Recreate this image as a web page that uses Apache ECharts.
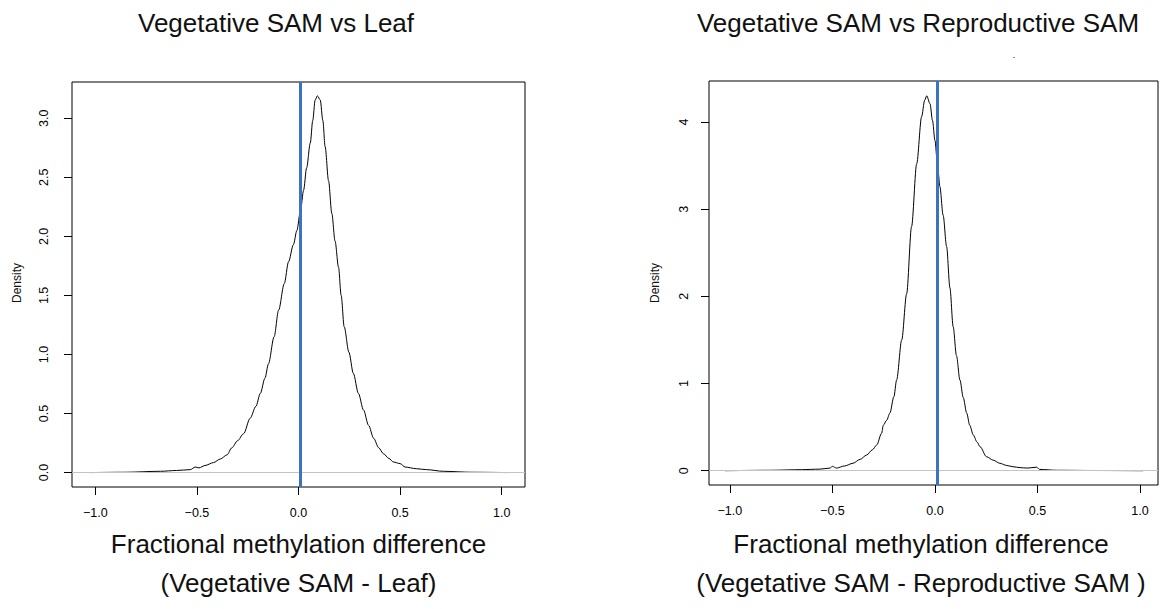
<!DOCTYPE html>
<html>
<head>
<meta charset="utf-8">
<script src="https://cdn.jsdelivr.net/npm/echarts@6/dist/echarts.min.js"></script>
<style>html,body{margin:0;padding:0;background:#fff}#c{width:1163px;height:609px}</style>
</head>
<body>
<div id="c"></div>
<script>
// ---- data ----
const leftX = [-1.03,-0.85,-0.68,-0.60,-0.533,-0.508,-0.49,-0.46,-0.418,-0.385,-0.352,-0.328,-0.30,-0.27,-0.238,-0.21,-0.188,-0.165,-0.148,-0.12,-0.098,-0.07,-0.049,-0.025,-0.008,0.01,0.025,0.04,0.058,0.07,0.082,0.093,0.107,0.12,0.131,0.148,0.164,0.18,0.197,0.21,0.225,0.248,0.27,0.295,0.32,0.345,0.37,0.395,0.418,0.445,0.467,0.5,0.525,0.58,0.63,0.713,0.85,1.03];
const leftY = [0.0,0.003,0.011,0.018,0.025,0.047,0.04,0.06,0.085,0.115,0.15,0.21,0.27,0.33,0.46,0.56,0.67,0.80,0.92,1.15,1.375,1.6,1.785,1.93,2.05,2.22,2.39,2.58,2.79,2.98,3.155,3.19,3.155,2.98,2.76,2.47,2.195,1.96,1.74,1.5,1.234,1.02,0.84,0.67,0.53,0.40,0.29,0.21,0.16,0.12,0.09,0.076,0.047,0.033,0.025,0.011,0.003,0.0];
const rightX = [-1.024,-0.8,-0.65,-0.561,-0.512,-0.5,-0.48,-0.44,-0.4,-0.365,-0.333,-0.305,-0.284,-0.26,-0.252,-0.235,-0.22,-0.2,-0.187,-0.162,-0.138,-0.114,-0.089,-0.065,-0.05,-0.04,-0.024,-0.012,0.0,0.012,0.024,0.04,0.057,0.073,0.089,0.105,0.122,0.138,0.155,0.17,0.187,0.205,0.22,0.252,0.285,0.317,0.35,0.38,0.415,0.45,0.496,0.51,0.594,0.8,1.015];
const rightY = [0,0.005,0.012,0.018,0.03,0.05,0.03,0.055,0.085,0.13,0.18,0.24,0.295,0.43,0.52,0.58,0.66,0.85,1.04,1.5,2.03,2.8,3.52,4.06,4.25,4.30,4.21,4.02,3.79,3.53,3.26,2.93,2.57,2.1,1.65,1.32,1.04,0.84,0.66,0.52,0.41,0.33,0.275,0.16,0.12,0.085,0.06,0.046,0.035,0.03,0.04,0.015,0.005,0.002,0];
const xTicks = [-1.0,-0.5,0.0,0.5,1.0];
const leftYTicks = [0.0,0.5,1.0,1.5,2.0,2.5,3.0];
const rightYTicks = [0,1,2,3,4];
const leftVLine = 0.005;
const rightVLine = 0.008;
const titles = ["Vegetative SAM vs Leaf", "Vegetative SAM vs Reproductive SAM"];
const xLabels1 = ["Fractional methylation difference", "Fractional methylation difference"];
const xLabels2 = ["(Vegetative SAM - Leaf)", "(Vegetative SAM - Reproductive SAM )"];
const yLabel = "Density";

// ---- chart ----
const FONT = '"Liberation Sans", Arial, Helvetica, sans-serif';
const zip = (xs, ys) => xs.map((x, i) => [x, ys[i]]);
const fmtX = v => (v < 0 ? '\u2212' : '') + Math.abs(v).toFixed(1);

function xAxis(gi, min, max) {
  return {
    gridIndex: gi, type: 'value', min, max, position: 'bottom',
    axisLine: { show: false, onZero: false }, splitLine: { show: false },
    axisTick: { show: true, inside: false, length: 8, lineStyle: { color: '#000', width: 1 }, customValues: xTicks },
    axisLabel: { customValues: xTicks, formatter: fmtX, fontSize: 12.5, color: '#000', margin: 19, fontFamily: FONT }
  };
}
function yAxis(gi, min, max, ticks, fmt, margin) {
  return {
    gridIndex: gi, type: 'value', min, max, position: 'left',
    axisLine: { show: false, onZero: false }, splitLine: { show: false },
    axisTick: { show: true, inside: false, length: 8, lineStyle: { color: '#000', width: 1 }, customValues: ticks },
    axisLabel: { customValues: ticks, formatter: fmt, rotate: 90, fontSize: 12.5, color: '#000', margin, fontFamily: FONT }
  };
}
function panelSeries(gi, xs, ys, vline) {
  return [
    { type: 'line', xAxisIndex: gi, yAxisIndex: gi, data: [[0, 0]], showSymbol: false, silent: true, z: 1,
      lineStyle: { opacity: 0 },
      markLine: { silent: true, symbol: ['none', 'none'], label: { show: false }, animation: false,
        lineStyle: { color: '#c4c4c4', width: 1, type: 'solid' }, data: [{ yAxis: 0 }] } },
    { type: 'line', xAxisIndex: gi, yAxisIndex: gi, data: zip(xs, ys), showSymbol: false, silent: true, z: 2,
      smooth: 0.3, smoothMonotone: 'x', lineStyle: { color: '#000', width: 1 } },
    { type: 'line', xAxisIndex: gi, yAxisIndex: gi, data: [[vline, 0]], showSymbol: false, silent: true, z: 3,
      lineStyle: { opacity: 0 },
      markLine: { silent: true, symbol: ['none', 'none'], label: { show: false }, animation: false,
        lineStyle: { color: '#3a73c1', width: 3, type: 'solid' }, data: [{ xAxis: vline }] } }
  ];
}
function txt(x, y, text, size, rot) {
  return { type: 'text', x, y, rotation: rot || 0, silent: true,
    style: { text, fontSize: size, fontFamily: FONT, fill: '#111', align: 'center', verticalAlign: 'middle' } };
}

const chart = echarts.init(document.getElementById('c'), null, { renderer: 'svg' });
chart.setOption({
  animation: false,
  backgroundColor: '#fff',
  grid: [
    { left: 72, top: 82, width: 453, height: 405, show: true, borderColor: '#000', borderWidth: 1, backgroundColor: 'transparent' },
    { left: 709, top: 81, width: 449, height: 404, show: true, borderColor: '#000', borderWidth: 1, backgroundColor: 'transparent' }
  ],
  xAxis: [xAxis(0, -1.115, 1.115), xAxis(1, -1.102, 1.088)],
  yAxis: [
    yAxis(0, -0.122, 3.307, leftYTicks, v => v.toFixed(1), 22),
    yAxis(1, -0.164, 4.47, rightYTicks, v => String(Math.round(v)), 18.5)
  ],
  series: [...panelSeries(0, leftX, leftY, leftVLine), ...panelSeries(1, rightX, rightY, rightVLine)],
  graphic: [
    txt(276, 22.5, titles[0], 26),
    txt(918, 22.5, titles[1], 26),
    txt(298.5, 544, xLabels1[0], 26),
    txt(298.5, 583, xLabels2[0], 26),
    txt(921, 544, xLabels1[1], 26),
    txt(921, 583, xLabels2[1], 26),
    txt(17, 283, yLabel, 12, Math.PI / 2),
    txt(655, 283, yLabel, 12, Math.PI / 2),
    txt(1014, 56, '-', 7)
  ]
});
</script>
</body>
</html>
